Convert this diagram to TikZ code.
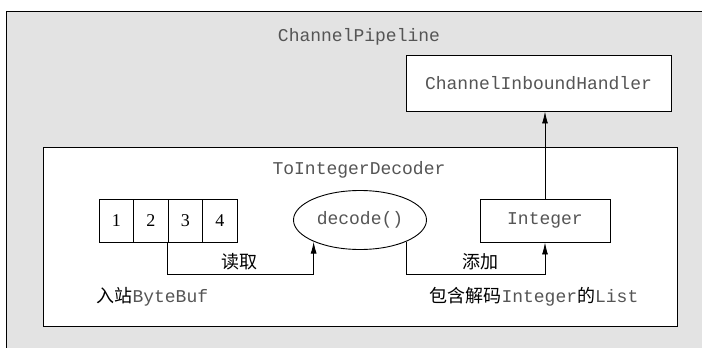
\documentclass[tikz,border=0pt]{standalone}
\usepackage{fontspec}
\setmainfont{Liberation Serif}
\setmonofont{Liberation Mono}
\newfontfamily\cjk{Noto Sans CJK SC}
\usetikzlibrary{arrows.meta,shapes.geometric}
\definecolor{pipebg}{HTML}{E3E3E3}
\definecolor{codegray}{HTML}{555555}
\newcommand{\code}[1]{{\ttfamily\color{codegray}#1}}
\tikzset{>={Latex[length=12pt,width=6pt]},every node/.style={font=\fontsize{18}{20}\selectfont},
  box/.style={draw,fill=white,line width=.9pt,inner sep=0pt},cell/.style={box,minimum width=34.5pt,minimum height=43pt},
  flow/.style={line width=.9pt,->}}
\begin{document}
\begin{tikzpicture}[x=1pt,y=-1pt]
\useasboundingbox (0,0) rectangle (702,348);
\fill[pipebg] (6,11) rectangle (702,348);\draw[line width=.9pt] (702,11)--(6,11)--(6,348);
\node (pipe) at (359,37){\code{ChannelPipeline}};
\node[box,minimum width=265pt,minimum height=56pt] (handler) at (538.5,83){\code{ChannelInboundHandler}};
\node[box,minimum width=634pt,minimum height=179pt] (decoder) at (360,236.5){};
\node (declbl) at (359,170){\code{ToIntegerDecoder}};
\foreach \i in {1,...,4}{\node[cell] (c\i) at (99+34.5*\i-17.25,220.5){\i};}
\node[box,ellipse,minimum width=133pt,minimum height=59pt] (dec) at (360,220){\code{decode()}};
\node[box,minimum width=130pt,minimum height=43pt] (int) at (545,220.5){\code{Integer}};
\draw[flow] (c3.south west)--++(0,32)-|(dec.205);\node (read) at (239,262){\cjk 读取};
\draw[flow] (dec.335)--++(0,32.7)-|(int.south);\node (add) at (480,262){\cjk 添加};
\draw[flow] (int.north)--(int.north|-handler.south);
\node[anchor=west] (inbuf) at (93,297){{\cjk 入站}\code{ByteBuf}};
\node[anchor=west] (outlist) at (426,297){{\cjk 包含解码}\code{Integer}{\cjk 的}\code{List}};
\end{tikzpicture}
\end{document}
